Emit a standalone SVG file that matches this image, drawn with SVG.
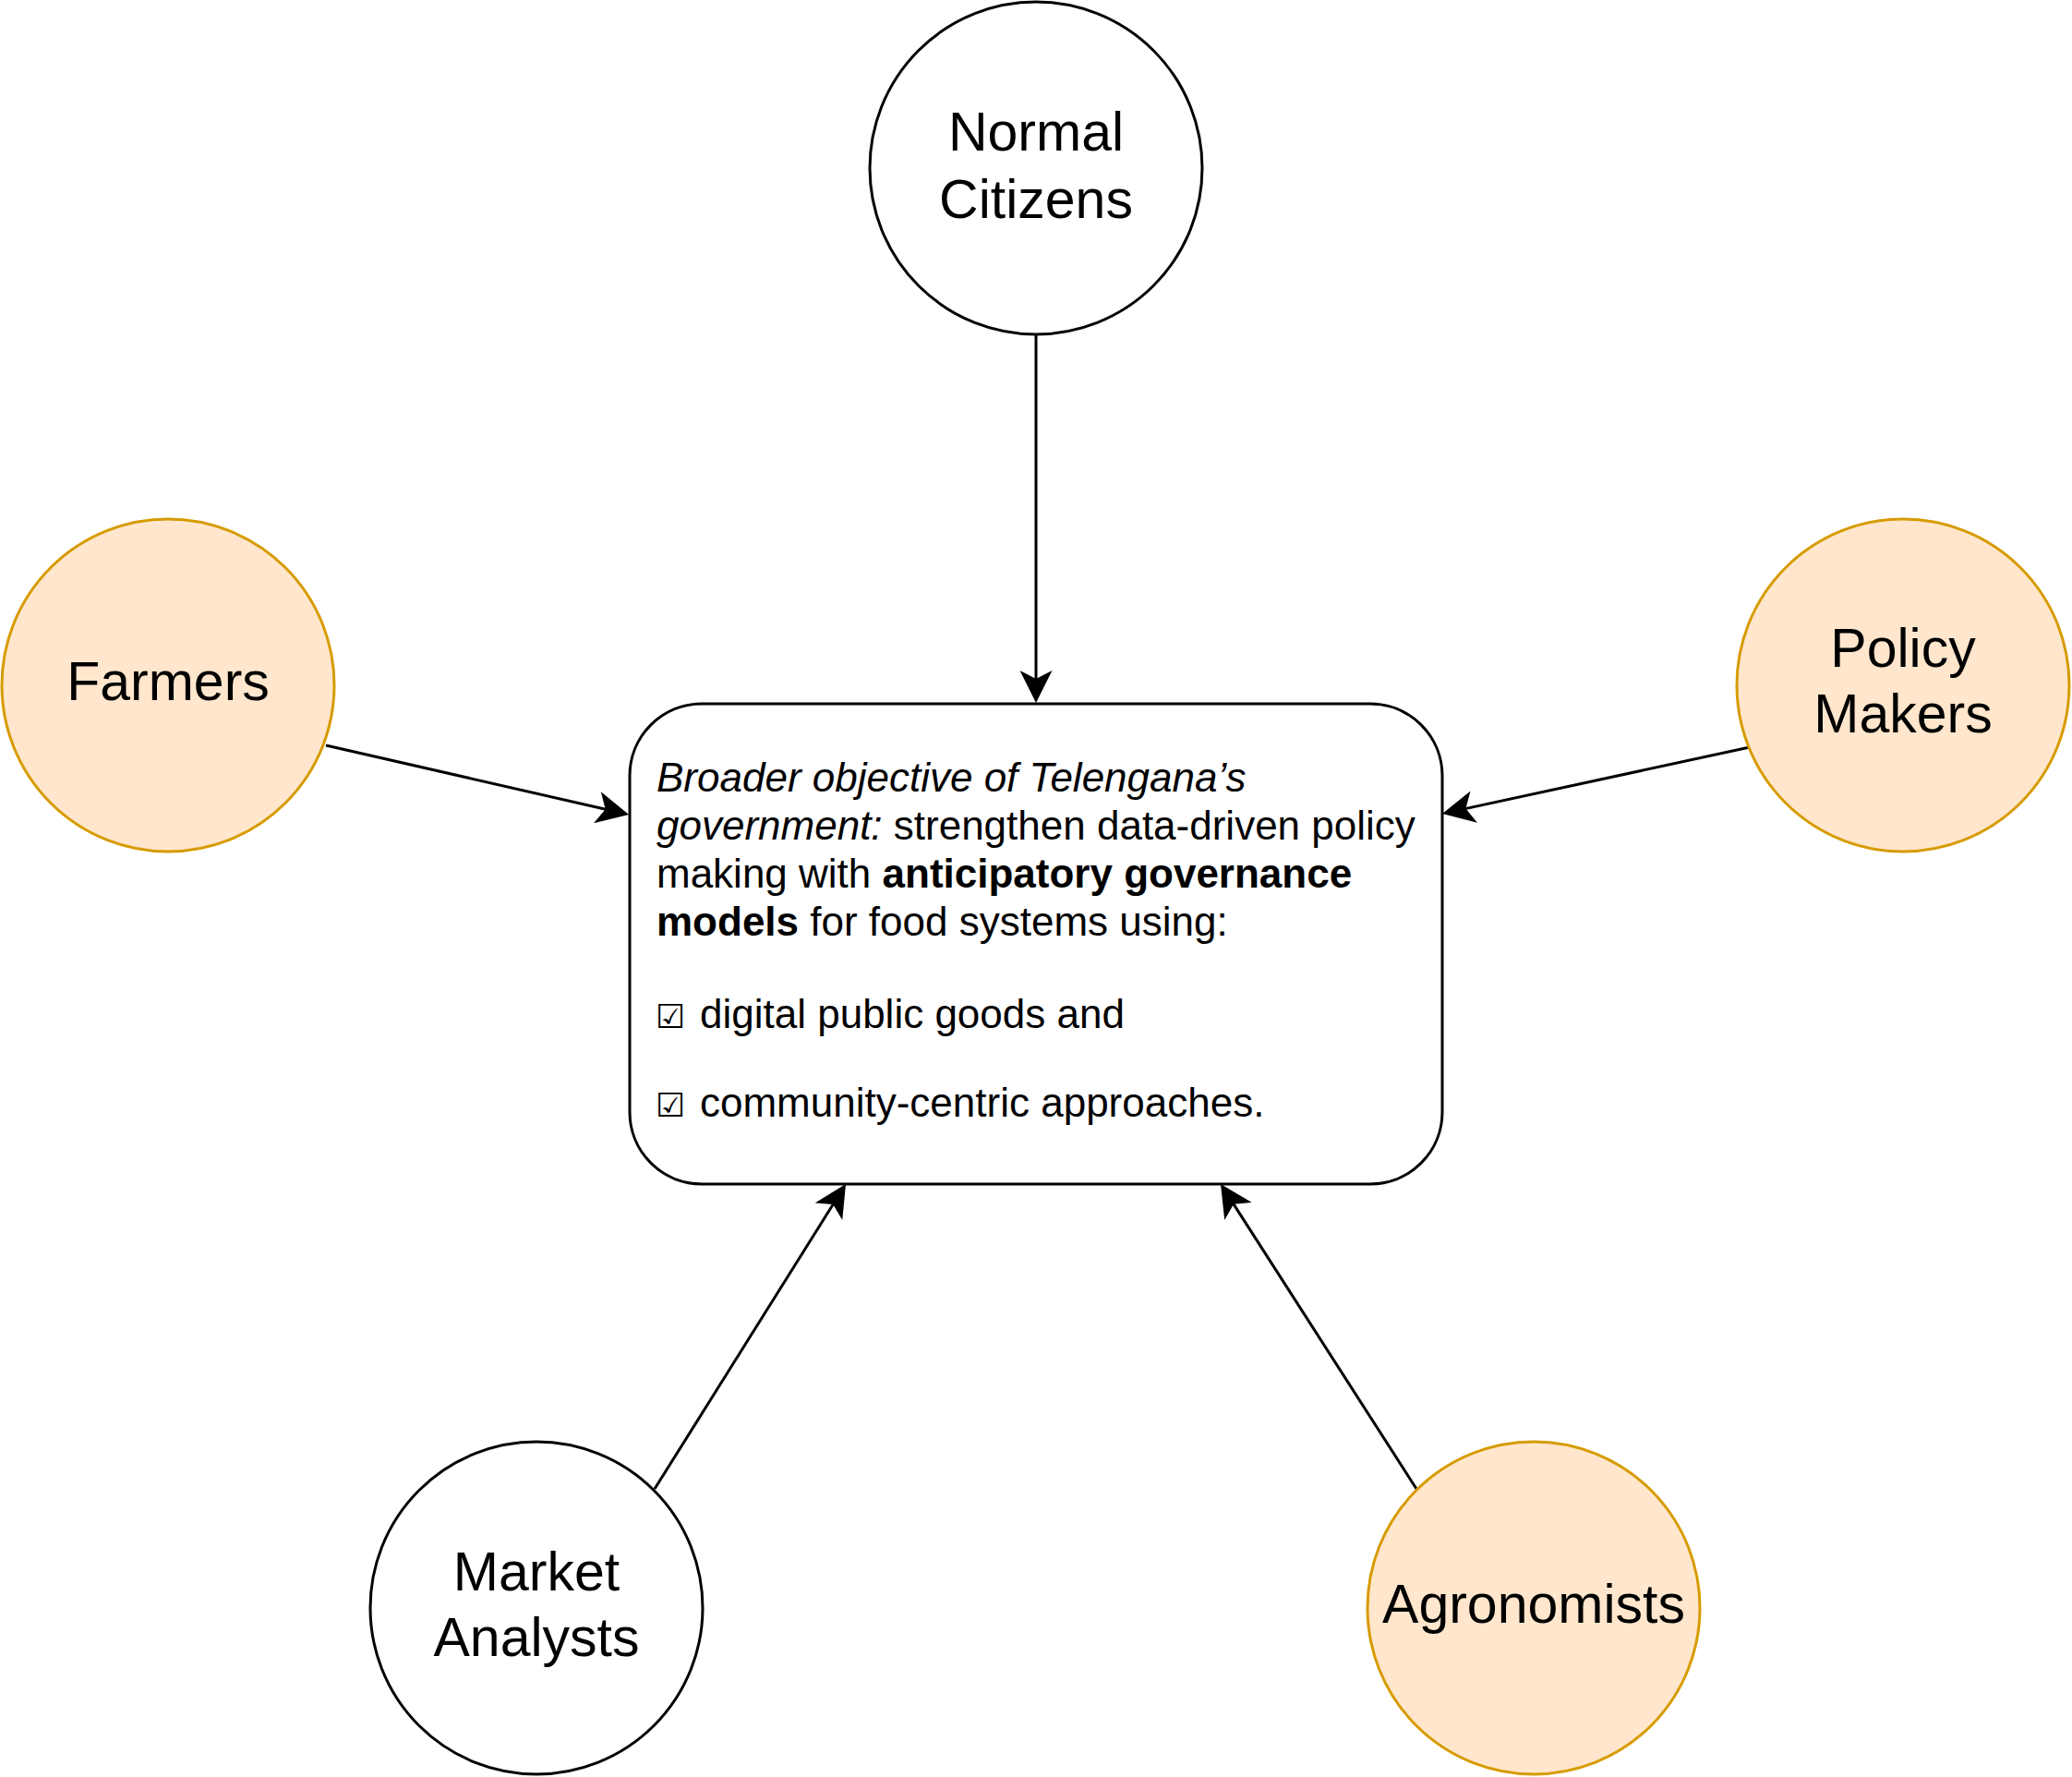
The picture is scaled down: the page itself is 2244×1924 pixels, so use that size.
<svg xmlns="http://www.w3.org/2000/svg" width="2244" height="1924" viewBox="0 0 2244 1924">
<style>
.plain{fill:#ffffff;stroke:#000000;stroke-width:3}
.orange{fill:#ffe6cc;stroke:#d79b00;stroke-width:3}
.lbl{font-family:"Liberation Sans",Arial,Helvetica,sans-serif;font-size:59px;fill:#000000;text-anchor:middle}
.body{font-family:"Liberation Sans",Arial,Helvetica,sans-serif;font-size:44px;fill:#000000}
.chk{font-family:"DejaVu Sans",sans-serif;font-size:36px}
.edge{fill:none;stroke:#000000;stroke-width:3;marker-end:url(#arrow)}
</style>
<defs>
<marker id="arrow" markerUnits="userSpaceOnUse" viewBox="0 0 35 35" markerWidth="35" markerHeight="35" refX="25" refY="17.5" orient="auto">
<path d="M35,17.5 L0,0 L9,17.5 L0,35 Z" fill="#000000"/>
</marker>
</defs>
<rect width="2244" height="1924" fill="#ffffff"/>
<g id="connectors">
<path class="edge" d="M1122,363 L1122,751"/>
<path class="edge" d="M353,807 L671.3,879.8"/>
<path class="edge" d="M1895,809 L1571.8,878.9"/>
<path class="edge" d="M709,1612 L910.7,1290.5"/>
<path class="edge" d="M1534,1612 L1327.4,1290.4"/>
</g>
<g id="objective">
<rect class="plain" x="682" y="762" width="880" height="520" rx="78" ry="78"/>
<text class="body" x="711" y="857" font-style="italic">Broader objective of Telengana’s</text>
<text class="body" x="711" y="909"><tspan font-style="italic">government:</tspan> strengthen data-driven policy</text>
<text class="body" x="711" y="961">making with <tspan font-weight="bold">anticipatory governance</tspan></text>
<text class="body" x="711" y="1013"><tspan font-weight="bold">models</tspan> for food systems using:</text>
<text class="body" x="710" y="1113"><tspan class="chk">☑ </tspan><tspan x="758">digital public goods and</tspan></text>
<text class="body" x="710" y="1209"><tspan class="chk">☑ </tspan><tspan x="758">community-centric approaches.</tspan></text>
</g>
<g id="normal-citizens">
<circle class="plain" cx="1122" cy="182" r="180"/>
<text class="lbl" x="1122" y="163">Normal</text>
<text class="lbl" x="1122" y="236">Citizens</text>
</g>
<g id="farmers">
<circle class="orange" cx="182" cy="742" r="180"/>
<text class="lbl" x="182" y="758">Farmers</text>
</g>
<g id="policy-makers">
<circle class="orange" cx="2061" cy="742" r="180"/>
<text class="lbl" x="2061" y="722">Policy</text>
<text class="lbl" x="2061" y="793">Makers</text>
</g>
<g id="market-analysts">
<circle class="plain" cx="581" cy="1741" r="180"/>
<text class="lbl" x="581" y="1722">Market</text>
<text class="lbl" x="581" y="1793">Analysts</text>
</g>
<g id="agronomists">
<circle class="orange" cx="1661" cy="1741" r="180"/>
<text class="lbl" x="1661" y="1757">Agronomists</text>
</g>
</svg>
